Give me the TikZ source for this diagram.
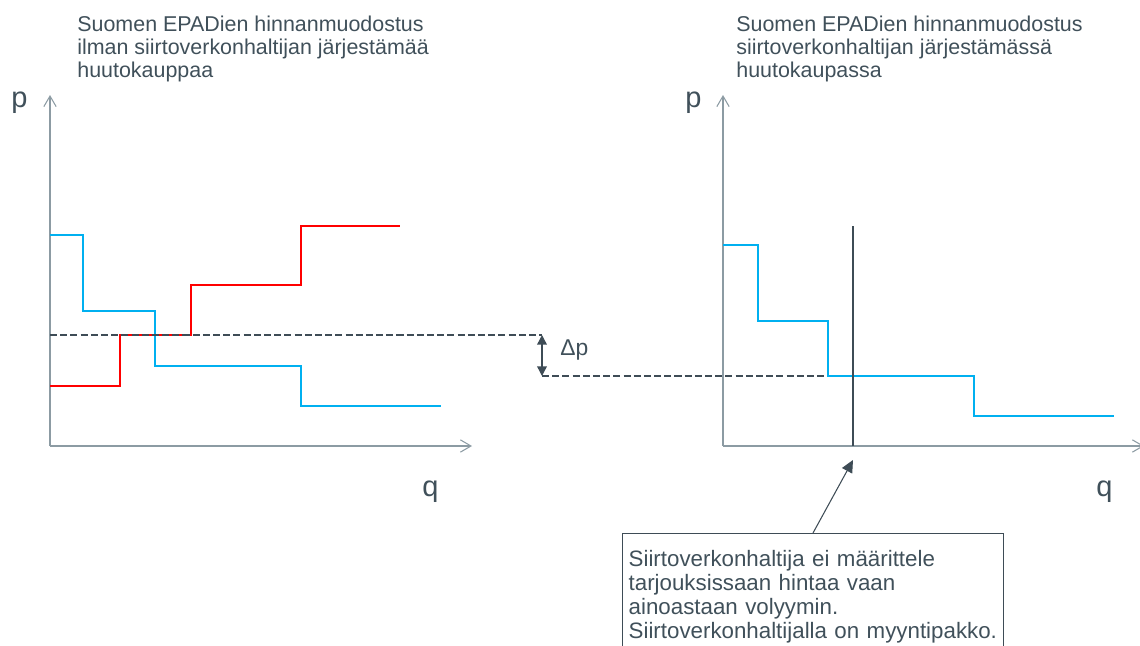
\documentclass[tikz,border=0pt]{standalone}
\usepackage{fontspec}
\setmainfont{Liberation Sans}
\usetikzlibrary{arrows.meta}

\definecolor{txtgray}{RGB}{64,80,90}
\definecolor{axisgray}{RGB}{140,155,163}
\definecolor{linegray}{RGB}{62,76,86}
\definecolor{bidblue}{RGB}{0,176,240}
\definecolor{offerred}{RGB}{255,0,0}

\tikzset{
  axis/.style={draw=axisgray, line width=0.6pt, -{Straight Barb[length=6pt,width=7pt]}},
  title/.style={anchor=north west, inner sep=0pt, align=left, text=txtgray,
    font=\fontsize{12.2}{12.9}\selectfont},
  axlabel/.style={anchor=base west, inner sep=0pt, text=txtgray,
    font=\fontsize{16.5}{18}\selectfont},
  bidstep/.style={draw=bidblue, line width=1.1pt},
  offerstep/.style={draw=offerred, line width=1.1pt},
  level/.style={draw=linegray, line width=0.8pt, dash pattern=on 4pt off 1.8pt},
  notebox/.style={draw=linegray, line width=0.8pt, anchor=north west, align=left,
    text=txtgray, text width=210pt, inner xsep=3.4pt, inner ysep=9.2pt,
    text depth=3cm, font=\fontsize{12.7}{13.7}\selectfont}
}

\begin{document}
\begin{tikzpicture}[x=0.02cm, y=-0.02cm]
\useasboundingbox (0,0) rectangle (1140,646);

% vasen kuva
\node[title] (titleA) at (77,16) {Suomen EPADien hinnanmuodostus\\ilman siirtoverkonhaltijan järjestämää\\huutokauppaa};
\node[axlabel] (pA) at (11,107) {p};
\node[axlabel] (qA) at (422,496) {q};
\coordinate (OA) at (50,446);
\draw[axis] (OA) -- (472,446);
\draw[axis] (OA) -- (50,95);

\draw[bidstep] (50,235) -| (83,311) -| (155,366) -| (301,406) -- (441,406);
\draw[offerstep] (50,386) -| (120,335) -| (191,285) -| (301,226) -- (400,226);

% hintaero
\coordinate (pHigh) at (542,335);
\coordinate (pLow) at (542,376);
\draw[level] (50,335) -- (pHigh);
\draw[level] (pLow) -- (828,376);
\draw[draw=linegray, line width=0.8pt, {Triangle[length=5.5pt,width=5.5pt]}-{Triangle[length=5.5pt,width=5.5pt]}] (pHigh) -- (pLow);
\node[anchor=base west, inner sep=0pt, text=txtgray, font=\fontsize{13}{15}\selectfont] (dp) at (560,355) {Δp};

% oikea kuva
\node[title] (titleB) at (736,16) {Suomen EPADien hinnanmuodostus\\siirtoverkonhaltijan järjestämässä\\huutokaupassa};
\node[axlabel] (pB) at (685,107) {p};
\node[axlabel] (qB) at (1096,496) {q};
\coordinate (OB) at (723,446);
\draw[axis] (OB) -- (1144,446);
\draw[axis] (OB) -- (723,95);

\draw[bidstep] (723,245) -| (758,321) -| (828,376) -| (974,416) -- (1114,416);
\draw[draw=linegray, line width=0.9pt] (853,226) -- (853,446);

% selite
\node[notebox] (note) at (622,533) {Siirtoverkonhaltija ei määrittele\\tarjouksissaan hintaa vaan\\ainoastaan volyymin.\\Siirtoverkonhaltijalla on myyntipakko.};
\coordinate (noteTop) at (813,533);
\coordinate (volTip) at (853,460);
\draw[draw=linegray, line width=0.6pt, -{Triangle[length=7pt,width=6.5pt]}] (noteTop) -- (volTip);
\end{tikzpicture}
\end{document}
